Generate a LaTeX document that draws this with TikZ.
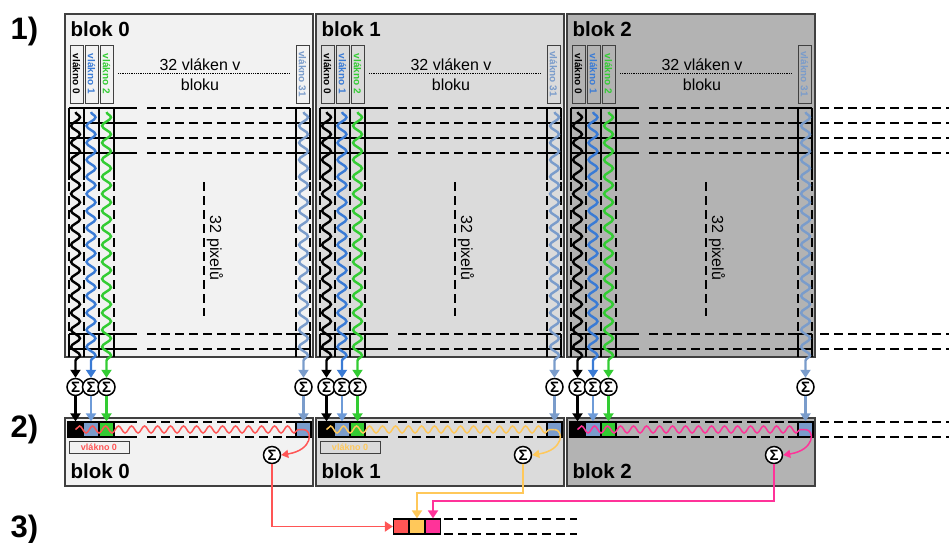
\documentclass[tikz,border=0pt]{standalone}
\usepackage{fontspec}
\setmainfont{Liberation Sans}
\usetikzlibrary{decorations.pathmorphing,arrows.meta,calc}
\definecolor{bgA}{HTML}{F2F2F2}
\definecolor{bgB}{HTML}{DBDBDB}
\definecolor{bgC}{HTML}{B3B3B3}
\definecolor{tblue}{HTML}{3A7BD5}
\definecolor{tlblue}{HTML}{7A9CCB}
\definecolor{alblue}{HTML}{6E9BD8}
\definecolor{tgreen}{HTML}{33CC33}
\definecolor{cred}{HTML}{FF5555}
\definecolor{cyel}{HTML}{FFC85A}
\definecolor{cpink}{HTML}{FF3399}
\definecolor{edge}{HTML}{404040}
\newcommand\myfs[1]{\fontsize{#1}{#1}\selectfont}
\begin{document}
\begin{tikzpicture}[x=1pt,y=-1pt,
  blockbox/.style={draw=edge, line width=1.2pt},
  gridl/.style={line width=1.8pt, black},
  gridd/.style={line width=1.8pt, black, dash pattern=on 9pt off 5pt},
  wave/.style={line width=2.4pt, decorate, decoration={snake, segment length=17pt, amplitude=4.5pt, post length=9pt},
    -{Triangle[length=8pt,width=10pt]}},
  swave/.style={line width=1.5pt, decorate, decoration={snake, segment length=13pt, amplitude=3.5pt}},
  arr/.style={line width=2.3pt, -{Triangle[length=8pt,width=10pt]}},
  conn/.style={line width=1.8pt, -{Triangle[length=8pt,width=10pt]}},
  sig/.style={circle, draw, line width=1.5pt, fill=white, inner sep=0pt, minimum size=17pt, font=\bfseries\myfs{15}},
  lbl/.style={draw=edge, line width=1pt, inner sep=0pt, minimum width=58pt, minimum height=13pt, rotate=-90, font=\bfseries\myfs{10}},
  cell/.style={draw=black, line width=1.2pt, minimum width=15pt, minimum height=15pt, inner sep=0pt},
  title/.style={anchor=base west, font=\bfseries\myfs{20.5}},
  stage/.style={anchor=base west, font=\bfseries\myfs{31}},
  txt/.style={font=\myfs{16}}
]
\useasboundingbox (0,0) rectangle (949,542);

\node[stage] (st1) at (7,39) {1)};
\node[stage] (st2) at (7,437) {2)};
\node[stage] (st3) at (7,537) {3)};

\foreach \i/\bg/\wc in {0/bgA/cred,1/bgB/cyel,2/bgC/cpink} {
  \pgfmathsetmacro{\xo}{65+251*\i}
  % ---------- stage 1 block
  \draw[blockbox, fill=\bg] (\xo,14) rectangle (\xo+248,357);
  \node[title] (b\i) at (\xo+2,36) {blok \i};
  \node[lbl, text=black] (l\i-0) at (\xo+11.5,74) {vlákno 0};
  \node[lbl, text=tblue] (l\i-1) at (\xo+26.5,74) {vlákno 1};
  \node[lbl, text=tgreen] (l\i-2) at (\xo+41.5,74) {vlákno 2};
  \node[lbl, text=tlblue] (l\i-31) at (\xo+237.5,74) {vlákno 31};
  \node[txt] (h\i) at (\xo+135,65) {32 vláken v};
  \node[txt] (k\i) at (\xo+135,85) {bloku};
  \draw[densely dotted, line width=0.8pt] (\xo+53,73) -- (\xo+225,73);
  % grid
  \foreach \y in {108,123,138,153,334,349} {
    \draw[gridl] (\xo+4,\y) -- (\xo+72,\y);
    \draw[gridd] (\xo+82,\y) -- (\xo+218,\y);
    \draw[gridl] (\xo+221,\y) -- (\xo+245,\y);
  }
  \foreach \dx in {4,19,34,49,231,245} {
    \draw[gridl] (\xo+\dx,108) -- (\xo+\dx,180);
    \draw[gridd] (\xo+\dx,182) -- (\xo+\dx,334);
    \draw[gridl] (\xo+\dx,334) -- (\xo+\dx,357);
  }
  \draw[gridd] (\xo+139,182) -- (\xo+139,316);
  \node[txt, rotate=-90] (p\i) at (\xo+150,248) {32 pixelů};
  % sums between stage 1 and 2
  \node[sig] (s\i-0) at (\xo+10.5,387) {Σ};
  \node[sig] (s\i-1) at (\xo+26,387) {Σ};
  \node[sig] (s\i-2) at (\xo+41.5,387) {Σ};
  \node[sig] (s\i-31) at (\xo+238.5,387) {Σ};
  \coordinate (w\i-0) at (\xo+10.5,112);
  \coordinate (w\i-1) at (\xo+26,112);
  \coordinate (w\i-2) at (\xo+41.5,112);
  \coordinate (w\i-31) at (\xo+238.5,112);
  \draw[wave, black] (w\i-0) -- (s\i-0.north);
  \draw[wave, tblue] (w\i-1) -- (s\i-1.north);
  \draw[wave, tgreen] (w\i-2) -- (s\i-2.north);
  \draw[wave, tlblue] (w\i-31) -- (s\i-31.north);
  % ---------- stage 2 block
  \draw[blockbox, fill=\bg] (\xo,418) rectangle (\xo+248,486);
  \foreach \y in {422,437} {
    \draw[gridl] (\xo+4,\y) -- (\xo+72,\y);
    \draw[gridd] (\xo+82,\y) -- (\xo+218,\y);
    \draw[gridl] (\xo+221,\y) -- (\xo+245,\y);
  }
  \node[cell, fill=black] (c\i-0) at (\xo+10.5,429.5) {};
  \node[cell, fill=tlblue] (c\i-1) at (\xo+26,429.5) {};
  \node[cell, fill=tgreen] (c\i-2) at (\xo+41.5,429.5) {};
  \node[cell, fill=tlblue] (c\i-31) at (\xo+238.5,429.5) {};
  \draw[arr, black] (s\i-0) -- (c\i-0.north);
  \draw[arr, alblue] (s\i-1) -- (c\i-1.north);
  \draw[arr, tgreen] (s\i-2) -- (c\i-2.north);
  \draw[arr, tlblue] (s\i-31) -- (c\i-31.north);
  \node[sig] (t\i) at (\xo+207,455) {Σ};
  \draw[swave, \wc] (c\i-0.center) -- (c\i-31.center);
  \draw[\wc, line width=1.5pt, -{Triangle[length=7pt,width=8pt]}]
    (c\i-31.center) .. controls (\xo+248,430) and (\xo+248,450) .. (t\i.east);
  \node[title] (n\i) at (\xo+2,478) {blok \i};
  \ifnum\i<2
    \node[draw=edge, line width=1pt, fill=\bg, minimum width=60pt, minimum height=12pt, inner sep=0pt,
      text=\wc, font=\bfseries\myfs{9}] (v\i) at (\xo+34,447) {vlákno 0};
  \fi
}

% dashed continuation to the right
\foreach \y in {108,123,138,153,334,349,422,437} {
  \draw[gridd] (820,\y) -- (949,\y);
}

% stage 3
\node[cell, fill=cred] (r3) at (401,526.5) {};
\node[cell, fill=cyel] (y3) at (417,526.5) {};
\node[cell, fill=cpink] (p3) at (433,526.5) {};
\draw[gridd] (444,519) -- (577,519);
\draw[gridd] (444,534) -- (577,534);
\coordinate (yb) at (0,493);
\coordinate (pb) at (0,501);
\draw[conn, cred] (t0.south) |- (r3.west);
\draw[conn, cyel] (t1.south) -- (t1.south |- yb) -| (y3.north);
\draw[conn, cpink] (t2.south) -- (t2.south |- pb) -| (p3.north);
\end{tikzpicture}
\end{document}
